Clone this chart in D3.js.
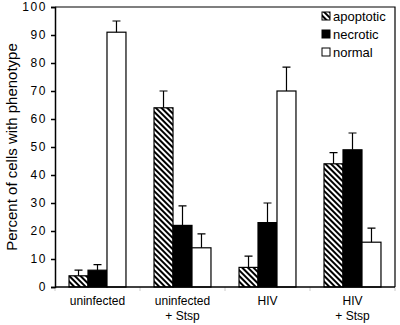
<!DOCTYPE html>
<html><head><meta charset="utf-8">
<script src="https://cdn.jsdelivr.net/npm/d3@7"></script>
<style>body{margin:0;background:#fff}svg{display:block}</style>
</head><body>
<svg id="c" width="400" height="325"></svg>
<script>
const categories = ["uninfected", "uninfected\n+ Stsp", "HIV", "HIV\n+ Stsp"];
const seriesNames = ["apoptotic", "necrotic", "normal"];
const apoptotic = [4, 64, 7, 44];
const necrotic = [6, 22, 23, 49];
const normal = [91, 14, 70, 16];
const apoptoticErr = [2, 6, 4, 4];
const necroticErr = [2, 7, 7, 6];
const normalErr = [4, 5, 8.5, 5];
const yTicks = [0, 10, 20, 30, 40, 50, 60, 70, 80, 90, 100];

const values = [apoptotic, necrotic, normal];
const errs = [apoptoticErr, necroticErr, normalErr];
const fills = ["url(#hatch)", "#000", "#fff"];

const svg = d3.select("#c");
const m = {left: 55, right: 5, top: 7, bottom: 38};
const W = 400, H = 325;

const defs = svg.append("defs");
const pat = defs.append("pattern").attr("id", "hatch").attr("patternUnits", "userSpaceOnUse")
  .attr("width", 4).attr("height", 4).attr("patternTransform", "rotate(-45)");
pat.append("rect").attr("width", 4).attr("height", 4).attr("fill", "#fff");
pat.append("rect").attr("width", 2).attr("height", 4).attr("fill", "#000");

const x0 = d3.scaleBand().domain(categories).range([m.left, W - m.right]).paddingInner(0.33).paddingOuter(0.165);
const x1 = d3.scaleBand().domain(seriesNames).range([0, x0.bandwidth()]);
const y = d3.scaleLinear().domain([0, 100]).range([H - m.bottom, m.top]);

// frame
svg.append("path").attr("d", `M${m.left},${m.top}H${W - m.right}V${H - m.bottom}`)
  .attr("fill", "none").attr("stroke", "#000").attr("stroke-width", 1.2);

// faint x ticks at band boundaries
const bounds = [m.left];
categories.forEach((c) => bounds.push(x0(c) + x0.bandwidth() + x0.step() * x0.paddingInner() / 2));
bounds[bounds.length - 1] = W - m.right;
svg.selectAll(".xt").data(bounds).join("line")
  .attr("x1", d => d).attr("x2", d => d).attr("y1", H - m.bottom).attr("y2", H - m.bottom + 4)
  .attr("stroke", "#ccc").attr("stroke-width", 1);

const groups = svg.selectAll(".g").data(categories).join("g").attr("transform", c => `translate(${x0(c)},0)`);
seriesNames.forEach((s, si) => {
  groups.append("rect")
    .attr("x", x1(s)).attr("width", x1.bandwidth())
    .attr("y", (c, i) => y(values[si][i])).attr("height", (c, i) => y(0) - y(values[si][i]))
    .attr("fill", fills[si]).attr("stroke", "#000").attr("stroke-width", 1.2);
  groups.append("path")
    .attr("d", (c, i) => {
      const cx = x1(s) + x1.bandwidth() / 2;
      const yt = y(values[si][i] + errs[si][i]);
      return `M${cx},${y(values[si][i])}V${yt}M${cx - 4},${yt}H${cx + 4}`;
    })
    .attr("fill", "none").attr("stroke", "#000").attr("stroke-width", 1.2);
});

// y axis
const yAxis = svg.append("g").attr("transform", `translate(${m.left},0)`)
  .call(d3.axisLeft(y).tickValues(yTicks).tickSize(4).tickPadding(4));
yAxis.select(".domain").attr("stroke-width", 1.5);
yAxis.selectAll(".tick line").attr("stroke-width", 1.5);
yAxis.selectAll("text").attr("font-family", "Arial, Liberation Sans, sans-serif").attr("font-size", 12)
  .attr("letter-spacing", "1.6px").attr("fill", "#000");

// x axis line
svg.append("line").attr("x1", m.left).attr("x2", W - m.right).attr("y1", y(0)).attr("y2", y(0))
  .attr("stroke", "#000").attr("stroke-width", 1.5);

// category labels
categories.forEach(c => {
  const lines = c.split("\n");
  const t = svg.append("text").attr("text-anchor", "middle")
    .attr("font-family", "Arial, Liberation Sans, sans-serif").attr("font-size", 12).attr("fill", "#000");
  lines.forEach((l, i) => {
    t.append("tspan").attr("x", x0(c) + x0.bandwidth() / 2).attr("y", 305 + i * 15).text(l);
  });
});

// y label
svg.append("text").attr("transform", `translate(17,${(y(0) + y(100)) / 2}) rotate(-90)`)
  .attr("text-anchor", "middle").attr("font-family", "Arial, Liberation Sans, sans-serif")
  .attr("font-size", 15).attr("fill", "#000").text("Percent of cells with phenotype");

// legend
const lg = svg.append("g").attr("transform", "translate(322,0)");
seriesNames.forEach((s, i) => {
  const cy = 16 + i * 18;
  lg.append("rect").attr("x", 0).attr("y", cy - 4).attr("width", 8).attr("height", 8)
    .attr("fill", fills[i]).attr("stroke", "#000").attr("stroke-width", 1);
  lg.append("text").attr("x", 11).attr("y", cy + 4.5).attr("font-family", "Arial, Liberation Sans, sans-serif")
    .attr("font-size", 13).attr("fill", "#000").text(s);
});
</script>
</body></html>
